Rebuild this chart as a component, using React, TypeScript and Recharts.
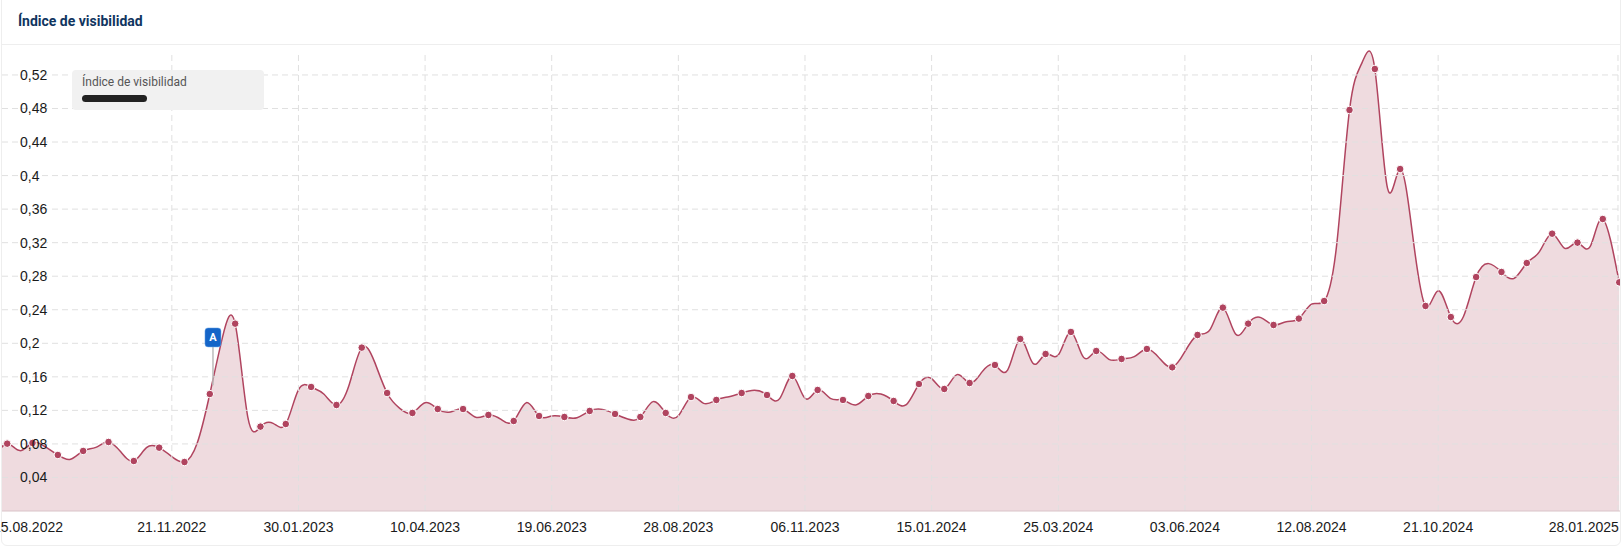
import { AreaChart, Area, XAxis, YAxis, ReferenceLine, ReferenceDot } from 'recharts';

// weekly readings, week 0 = 15.08.2022, a marker on every other week
const weeks = [
  0, 1, 2, 3, 4, 5, 6, 7, 8, 9, 10, 11, 12, 13, 14, 15, 16, 17, 18, 19, 20, 21,
  22, 23, 24, 25, 26, 27, 28, 29, 30, 31, 32, 33, 34, 35, 36, 37, 38, 39, 40, 41,
  42, 43, 44, 45, 46, 47, 48, 49, 50, 51, 52, 53, 54, 55, 56, 57, 58, 59, 60, 61,
  62, 63, 64, 65, 66, 67, 68, 69, 70, 71, 72, 73, 74, 75, 76, 77, 78, 79, 80, 81,
  82, 83, 84, 85, 86, 87, 88, 89, 90, 91, 92, 93, 94, 95, 96, 97, 98, 99, 100, 101,
  102, 103, 104, 105, 106, 107, 108, 109, 110, 111, 112, 113, 114, 115, 116, 117,
  118, 119, 120, 121, 122, 123, 124, 125, 126, 127, 128.3,
];
const visibility = [
  0.064, 0.0803, 0.072, 0.0811, 0.0767, 0.0668, 0.0616, 0.0716, 0.0759, 0.0823, 0.07,
  0.0596, 0.0755, 0.0755, 0.0648, 0.0584, 0.0807, 0.1395, 0.207, 0.2234, 0.112,
  0.1006, 0.1045, 0.1037, 0.1445, 0.1479, 0.1395, 0.1264, 0.1503, 0.1948, 0.1781,
  0.1407, 0.1224, 0.1169, 0.1292, 0.1216, 0.1181, 0.1216, 0.1117, 0.1145, 0.1093,
  0.1073, 0.1292, 0.1133, 0.1133, 0.1121, 0.1113, 0.1193, 0.1212, 0.1157, 0.1097,
  0.1121, 0.1304, 0.1169, 0.1137, 0.1359, 0.1284, 0.1324, 0.1363, 0.1407, 0.1439,
  0.1383, 0.134, 0.161, 0.1344, 0.1443, 0.1344, 0.1324, 0.1264, 0.1371, 0.1395,
  0.1312, 0.1268, 0.1514, 0.1578, 0.1455, 0.1626, 0.1526, 0.1662, 0.1741, 0.1681,
  0.2051, 0.1761, 0.1872, 0.186, 0.2135, 0.1832, 0.1908, 0.1809, 0.1813, 0.184,
  0.1932, 0.182, 0.1713, 0.19, 0.2099, 0.2166, 0.2425, 0.2111, 0.2234, 0.2306,
  0.2218, 0.2258, 0.2294, 0.2468, 0.2504, 0.3192, 0.4782, 0.535, 0.5271, 0.385,
  0.4078, 0.3271, 0.2445, 0.2627, 0.2313, 0.232, 0.279, 0.295, 0.285, 0.2775,
  0.2957, 0.3093, 0.3307, 0.3132, 0.32, 0.3152, 0.3482, 0.2727,
];
const yTicks = [0.04, 0.08, 0.12, 0.16, 0.2, 0.24, 0.28, 0.32, 0.36, 0.4, 0.44, 0.48, 0.52];
const gridWeeks = [14, 24, 34, 44, 54, 64, 74, 84, 94, 104, 114, 128.2];
const tickWeeks = [2.64, 14, 24, 34, 44, 54, 64, 74, 84, 94, 104, 114, 125.5];
const tickLabels = [
  '15.08.2022', '21.11.2022', '30.01.2023', '10.04.2023', '19.06.2023', '28.08.2023', '06.11.2023',
  '15.01.2024', '25.03.2024', '03.06.2024', '12.08.2024', '21.10.2024', '28.01.2025',
];

const data = weeks.map((week, i) => ({ week, value: visibility[i] }));

const LINE = '#b0445f';
const FILL = '#efdbdf';
const GRID = '#e0e0e0';

const renderDot = (props: any) => {
  const { cx, cy, index } = props;
  if (index % 2 === 0 && index !== weeks.length - 1) return <g key={index} />;
  return <circle key={index} cx={cx} cy={cy} r={3.8} fill={LINE} stroke="#fff" strokeWidth={1} />;
};

const FlagA = (props: any) => (
  <g>
    <rect x={props.cx - 8} y={props.cy - 9.5} width={16} height={19} rx={3} fill="#1565c8" stroke="#6fa8e8" strokeWidth={0.5} />
    <text x={props.cx} y={props.cy + 4} textAnchor="middle" fontSize={11} fontWeight={700} fontFamily="Roboto" fill="#fff">
      A
    </text>
  </g>
);

export default function App() {
  return (
    <div style={{ position: 'absolute', left: 0, top: 0, width: 1622, height: 547, background: '#fff', overflow: 'hidden', fontFamily: '"Liberation Sans"' }}>
      <div style={{ position: 'absolute', left: 1, top: -6, width: 1620, height: 552, border: '1px solid #eeeeee', borderRadius: 6, boxSizing: 'border-box' }} />
      <div style={{ position: 'absolute', left: 1, top: 44, width: 1620, height: 1, background: '#eeeeee' }} />
      <div style={{ position: 'absolute', left: 18, top: 12, fontFamily: 'Roboto', fontWeight: 700, fontSize: 14, lineHeight: '18px', color: '#0f3560' }}>
        Índice de visibilidad
      </div>
      <AreaChart
        width={1622}
        height={547}
        data={data}
        margin={{ top: 41.4, right: 2, bottom: 6, left: 2 }}
        style={{ position: 'absolute', left: 0, top: 0 }}
      >
        <XAxis
          dataKey="week"
          type="number"
          height={30}
          domain={[0.59, 128.36]}
          allowDataOverflow
          ticks={tickWeeks}
          interval={0}
          tickFormatter={(w: number) => tickLabels[tickWeeks.indexOf(w)]}
          tickLine={false}
          axisLine={{ stroke: '#d9c3c8' }}
          tickMargin={5}
          tick={{ fontSize: 14, fill: '#1a1a1a', fontFamily: '"Liberation Sans"' }}
        />
        <YAxis
          type="number"
          domain={[0, 0.56]}
          ticks={yTicks}
          interval={0}
          mirror
          tickLine={false}
          axisLine={false}
          tickFormatter={(v: number) => String(v).replace('.', ',')}
          tick={{ fontSize: 14, fill: '#1a1a1a', fontFamily: '"Liberation Sans"', textAnchor: 'start', dx: 10 }}
        />
        <Area
          dataKey="value"
          type="natural"
          stroke={LINE}
          strokeWidth={1.5}
          fill={FILL}
          fillOpacity={1}
          dot={renderDot}
          isAnimationActive={false}
        />
        {yTicks.map((v) => (
          <ReferenceLine key={v} y={v} stroke={GRID} strokeDasharray="6 4" />
        ))}
        {gridWeeks.map((w) => (
          <ReferenceLine
            key={w}
            segment={[{ x: w, y: 0 }, { x: w, y: 0.545 }]}
            stroke={GRID}
            strokeDasharray="6 4"
          />
        ))}
        <ReferenceLine segment={[{ x: 17.25, y: 0.15 }, { x: 17.25, y: 0.2 }]} stroke="#bbbbbb" strokeWidth={1.5} />
        <ReferenceDot x={17.25} y={0.207} shape={FlagA} />
      </AreaChart>
      <div style={{ position: 'absolute', left: 72, top: 70, width: 192, height: 40, background: '#f1f1f1', borderRadius: 4 }} />
      <div style={{ position: 'absolute', left: 82, top: 75, fontFamily: 'Roboto', fontSize: 12, lineHeight: '14px', color: '#555' }}>
        Índice de visibilidad
      </div>
      <div style={{ position: 'absolute', left: 82, top: 95, width: 65, height: 7, background: '#222', borderRadius: 4 }} />
    </div>
  );
}
